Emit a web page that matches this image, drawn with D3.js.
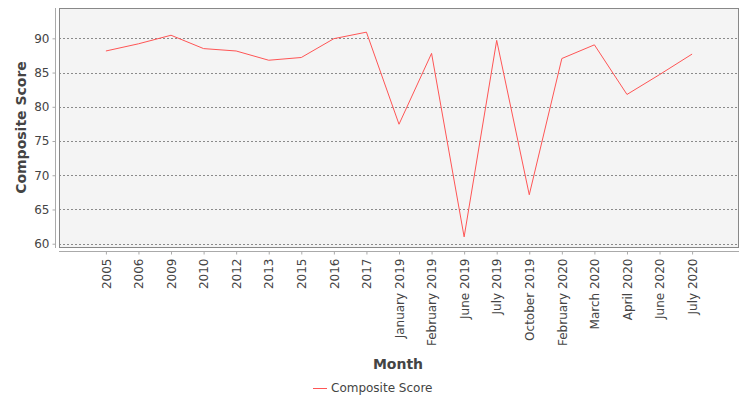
<!DOCTYPE html>
<html>
<head>
<meta charset="utf-8">
<script src="https://cdn.jsdelivr.net/npm/d3@7"></script>
<style>
  body { margin: 0; background: #fff; }
  text { font-family: "DejaVu Sans", sans-serif; }
</style>
</head>
<body>
<div id="chart"></div>
<script>
var width = 750,
    height = 400;

// chart data
var months = ["2005", "2006", "2009", "2010", "2012", "2013", "2015", "2016", "2017",
  "January 2019", "February 2019", "June 2019", "July 2019", "October 2019",
  "February 2020", "March 2020", "April 2020", "June 2020", "July 2020"];
var scores = [88.15, 89.2, 90.45, 88.5, 88.15, 86.8, 87.2, 89.95, 90.9,
  77.45, 87.8, 61.0, 89.7, 67.15, 87.05, 89.05, 81.8, 84.7, 87.7];
var yTicks = [60, 65, 70, 75, 80, 85, 90];
var seriesName = "Composite Score";

var plot = {left: 59, right: 739, top: 8, bottom: 247};

var svg = d3.select("#chart").append("svg")
    .attr("width", width)
    .attr("height", height);

var x = d3.scalePoint()
    .domain(months)
    .range([plot.left, plot.right])
    .padding(1.44);

var y = d3.scaleLinear()
    .domain([59.52, 94.43])
    .range([plot.bottom, plot.top]);

// plot background
svg.append("rect")
    .attr("x", plot.left)
    .attr("y", plot.top)
    .attr("width", plot.right - plot.left)
    .attr("height", plot.bottom - plot.top)
    .style("fill", "#f4f4f4");

// grid lines
svg.selectAll(".grid")
    .data(yTicks)
  .enter().append("line")
    .attr("class", "grid")
    .attr("x1", plot.left)
    .attr("x2", plot.right)
    .attr("y1", function(d) { return Math.round(y(d)) + 0.5; })
    .attr("y2", function(d) { return Math.round(y(d)) + 0.5; })
    .style("stroke", "#8a8a8a")
    .style("stroke-width", 1)
    .style("stroke-dasharray", "2,2");

svg.append("rect")
    .attr("x", plot.left + 0.5)
    .attr("y", plot.top + 0.5)
    .attr("width", plot.right - plot.left - 1)
    .attr("height", plot.bottom - plot.top)
    .style("fill", "none")
    .style("stroke", "#888")
    .style("stroke-width", 1);

// y axis
var yAxis = svg.append("g")
    .attr("transform", "translate(55.5,0)")
    .call(d3.axisLeft(y).tickValues(yTicks).tickSize(3).tickPadding(3).tickFormat(d3.format("d")));
yAxis.select(".domain")
    .attr("d", "M0," + plot.top + "V" + (plot.bottom + 1))
    .style("stroke", "#aaa");
yAxis.selectAll(".tick line").style("stroke", "#aaa");
yAxis.selectAll(".tick text")
    .style("font-size", "12px")
    .style("fill", "#444");

// x axis
var xAxis = svg.append("g")
    .attr("transform", "translate(0,251.5)")
    .call(d3.axisBottom(x).tickSize(3).tickPadding(4));
xAxis.select(".domain")
    .attr("d", "M" + plot.left + ",0H" + plot.right)
    .style("stroke", "#aaa");
xAxis.selectAll(".tick line").style("stroke", "#aaa");
xAxis.selectAll(".tick text")
    .attr("transform", "rotate(-90)")
    .attr("x", -7)
    .attr("y", 0)
    .attr("dy", "0.35em")
    .style("text-anchor", "end")
    .style("font-size", "12px")
    .style("fill", "#444");

// the series line
var line = d3.line()
    .x(function(d, i) { return x(months[i]); })
    .y(function(d) { return y(d); });

svg.append("path")
    .datum(scores)
    .attr("d", line)
    .style("fill", "none")
    .style("stroke", "#ff5555")
    .style("stroke-width", 1);

// axis titles
svg.append("text")
    .attr("transform", "translate(26," + ((plot.top + plot.bottom) / 2) + ")rotate(-90)")
    .style("text-anchor", "middle")
    .style("font-size", "14px")
    .style("font-weight", "bold")
    .style("fill", "#444")
    .text("Composite Score");

svg.append("text")
    .attr("x", 398)
    .attr("y", 369)
    .style("text-anchor", "middle")
    .style("font-size", "14px")
    .style("font-weight", "bold")
    .style("fill", "#444")
    .text("Month");

// legend
svg.append("line")
    .attr("x1", 313)
    .attr("x2", 327)
    .attr("y1", 388.5)
    .attr("y2", 388.5)
    .style("stroke", "#ff5555")
    .style("stroke-width", 1);

svg.append("text")
    .attr("x", 331)
    .attr("y", 392)
    .style("font-size", "12px")
    .style("fill", "#444")
    .text(seriesName);
</script>
</body>
</html>
